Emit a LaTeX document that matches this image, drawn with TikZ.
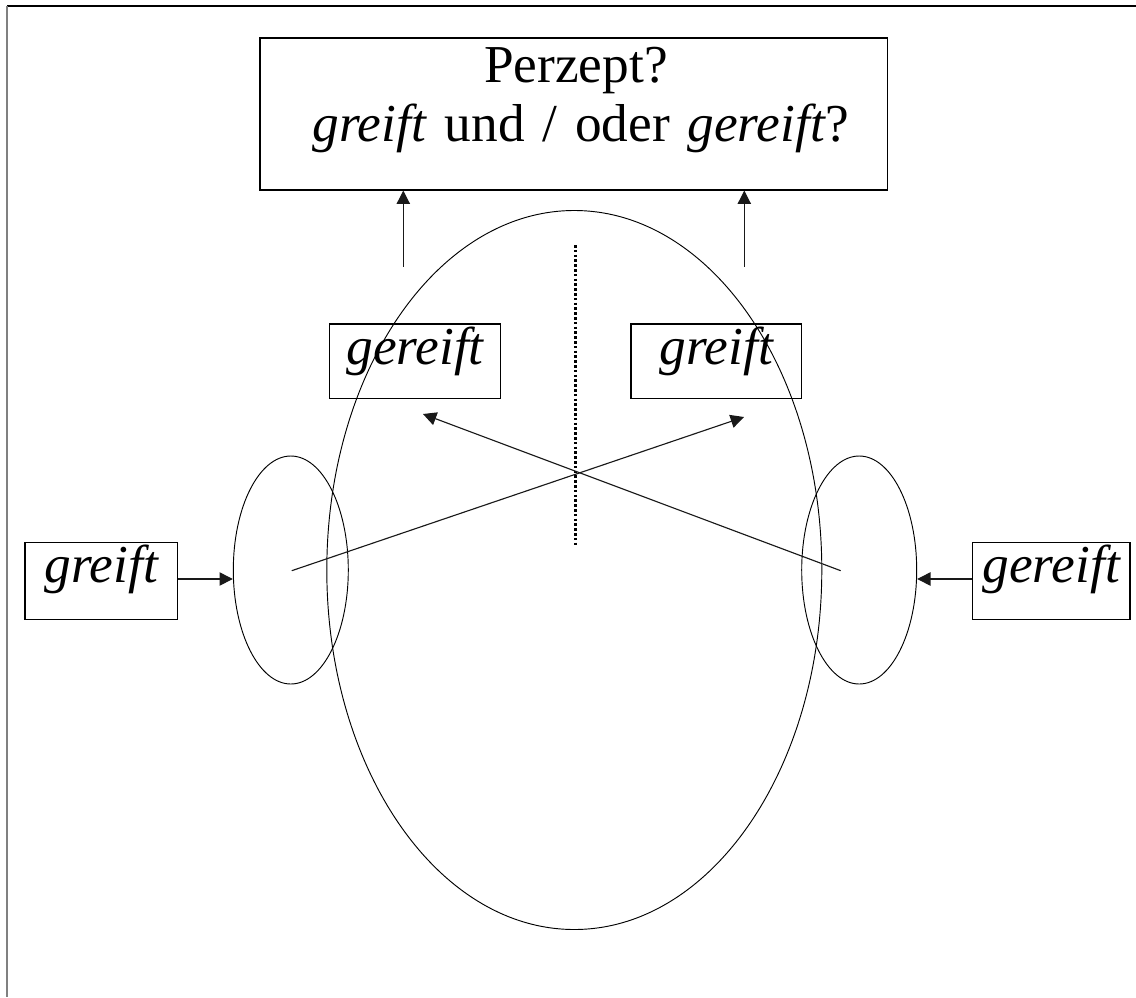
\documentclass[tikz,border=0pt]{standalone}
\usepackage{fontspec}
\setmainfont{Liberation Serif}
\usetikzlibrary{arrows.meta,shapes.geometric}

\tikzset{
  wordbox/.style={draw=black, line width=0.9pt, inner sep=0pt,
    text height=30.3pt, font=\fontsize{40}{48}\selectfont\itshape},
  headline/.style={draw=black, line width=0.7pt},
  earshape/.style={ellipse, draw=black, line width=0.7pt, inner sep=0pt,
    minimum width=86.25pt, minimum height=171pt},
  arr/.style={draw=black!90, line width=0.85pt,
    -{Triangle[length=10pt, width=10pt]}},
  titletext/.style={anchor=base, inner sep=0pt, font=\fontsize{40}{48}\selectfont},
}
\newcommand{\wsp}{\hspace{0.333em}}

\begin{document}
\begin{tikzpicture}[x=0.75pt, y=-0.75pt]
  \useasboundingbox (0,0) rectangle (1136,997);

  % page frame
  \draw[line width=0.9pt] (7,6) -- (1136,6);
  \draw[black!50, line width=1.3pt] (7,6) -- (7,997);

  % question box
  \node[draw=black, line width=0.9pt, minimum width=470.5pt,
        minimum height=114pt, inner sep=0pt] (top) at (573.7,114) {};
  \node[titletext] (t1) at (576,82) {Perzept?};
  \node[titletext] (t2) at (581,141.7)
        {\textit{greift}\wsp und\wsp /\wsp oder\wsp \textit{gereift}?};

  % head and ears
  \draw[headline] (574.3,570) ellipse [x radius=247.5, y radius=359.5];
  \node[earshape] (lear) at (290.8,570) {};
  \node[earshape] (rear) at (859.2,570) {};

  % midline
  \draw[line width=2pt, dash pattern=on 2pt off 1.6pt] (575.7,245) -- (575.7,545);

  % word boxes inside the head
  \node[wordbox, anchor=base, minimum width=128.5pt, text depth=25.5pt]
        (lbox) at (415,364.3) {gereift};
  \node[wordbox, anchor=base, minimum width=128pt, text depth=25.5pt]
        (rbox) at (716.3,364.3) {greift};

  % stimuli at the ears
  \node[wordbox, anchor=base, minimum width=114.5pt, text depth=27.45pt]
        (lg) at (101.3,582.7) {greift};
  \node[wordbox, anchor=base, minimum width=118.3pt, text depth=27.45pt]
        (rg) at (1051.2,582.7) {gereift};

  \draw[arr] (lg.east |- 0,579) -- (lear.west |- 0,579);
  \draw[arr] (rg.west |- 0,579) -- (rear.east |- 0,579);

  % crossing pathways
  \coordinate (ls) at (291.7,570.7);
  \coordinate (rs) at (840.7,570.7);
  \coordinate (lt) at (423,414);
  \coordinate (rt) at (744,417);
  \draw[arr] (ls) -- (rt);
  \draw[arr] (rs) -- (lt);

  % upward arrows to the question box
  \coordinate (lu) at (403.3,266.7);
  \coordinate (ru) at (744.3,266.7);
  \draw[arr] (lu) -- (lu |- top.south);
  \draw[arr] (ru) -- (ru |- top.south);
\end{tikzpicture}
\end{document}
